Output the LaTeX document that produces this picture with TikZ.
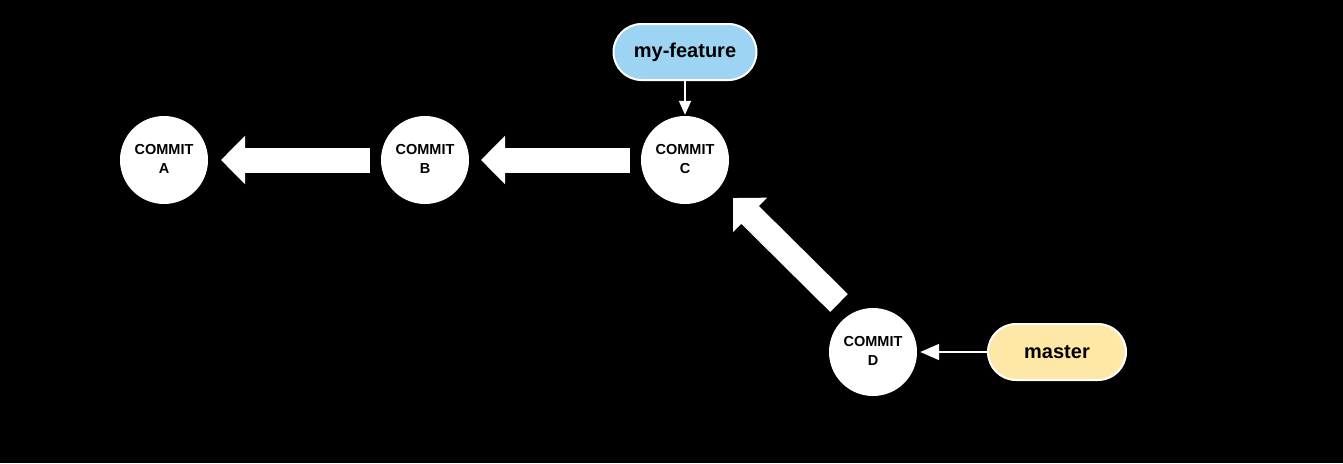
\documentclass[tikz,border=0pt]{standalone}
\usepackage{fontspec}
\setmainfont{Liberation Sans}
\usetikzlibrary{arrows.meta,calc}
\definecolor{featblue}{HTML}{9DD3F3}
\definecolor{masteryellow}{HTML}{FFE8A6}
\newcommand{\committext}[1]{\raisebox{2pt}{\shortstack{COMMIT\\[5.5pt]#1}}}
\begin{document}
\begin{tikzpicture}[x=1pt,y=-1pt,
  commit/.style={circle,fill=white,minimum size=88pt,inner sep=0pt,align=center,
    font=\fontsize{14.5}{17.5}\selectfont\bfseries,text=black},
  branch/.style={rounded corners=28pt,draw=white,line width=2pt,minimum width=143pt,minimum height=56pt,
    inner sep=0pt,font=\fontsize{20}{24}\selectfont\bfseries,text=black},
  bigarrow/.style={white,line width=25pt,-{Triangle[length=24pt,width=47pt]}},
  thinarrow/.style={white,line width=1.8pt}]
\fill[black] (0,0) rectangle (1343,463);
\useasboundingbox (0,0) rectangle (1343,463);
\node[commit] (A) at (164,160) {\committext{A}};
\node[commit] (B) at (425,160) {\committext{B}};
\node[commit] (C) at (685,160) {\committext{C}};
\node[commit] (D) at (873,352) {\committext{D}};
\node[branch,fill=featblue] (F) at (685,52) {my-feature};
\node[branch,fill=masteryellow,minimum width=138pt] (M) at (1057,352) {master};
\draw[bigarrow] ($(B.center)+(-55,0)$) -- ($(A.center)+(57,0)$);
\draw[bigarrow] ($(C.center)+(-55,0)$) -- ($(B.center)+(56,0)$);
\draw[bigarrow] ($(D.center)+(-34,-49)$) -- ($(C.center)+(48,38)$);
\draw[thinarrow,-{Triangle[length=14pt,width=12pt]}] (F.south) -- ($(C.north)+(0,-1)$);
\draw[thinarrow,-{Triangle[length=19pt,width=16pt]}] (M.west) -- ($(D.east)+(3,0)$);
\end{tikzpicture}
\end{document}
